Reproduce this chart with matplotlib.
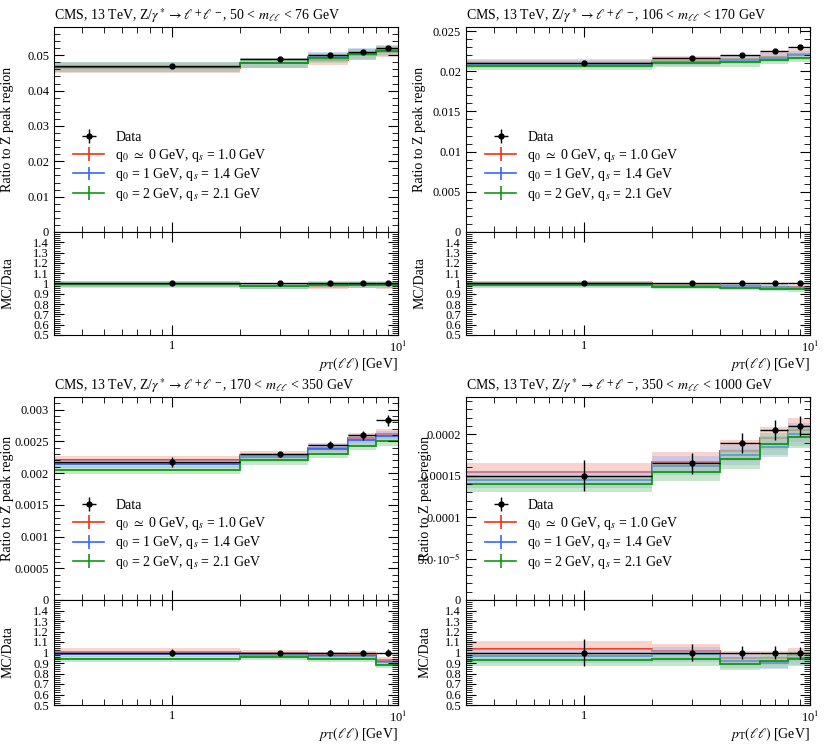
import numpy as np
import matplotlib
matplotlib.use('agg')
import matplotlib.pyplot as plt
from matplotlib.ticker import FixedLocator, NullFormatter

plt.rcParams['font.family'] = ['Liberation Serif', 'DejaVu Serif']
plt.rcParams['mathtext.fontset'] = 'stix'

edges = [0.3, 2, 4, 6, 8, 10]
centres = [1, 3, 5, 7, 9]

titles = [
    r'CMS, 13 TeV, Z/$\gamma^*\rightarrow\ell^+\ell^-$, 50 < $m_{\ell\ell}$ < 76 GeV',
    r'CMS, 13 TeV, Z/$\gamma^*\rightarrow\ell^+\ell^-$, 106 < $m_{\ell\ell}$ < 170 GeV',
    r'CMS, 13 TeV, Z/$\gamma^*\rightarrow\ell^+\ell^-$, 170 < $m_{\ell\ell}$ < 350 GeV',
    r'CMS, 13 TeV, Z/$\gamma^*\rightarrow\ell^+\ell^-$, 350 < $m_{\ell\ell}$ < 1000 GeV',
]
labels = [r'q$_0$ $\simeq$ 0 GeV, q$_s$ = 1.0 GeV',
          r'q$_0$ = 1 GeV, q$_s$ = 1.4 GeV',
          r'q$_0$ = 2 GeV, q$_s$ = 2.1 GeV']
colors = ['#ee3311', '#3366ff', '#109618']
band_colors = ['#f4a99c', '#a9b9f5', '#8fcf9b']

data = [
    [0.0470, 0.0490, 0.0500, 0.0510, 0.0520],
    [0.0210, 0.0217, 0.0220, 0.0225, 0.0230],
    [0.00218, 0.00230, 0.00245, 0.00260, 0.00283],
    [1.50e-4, 1.65e-4, 1.90e-4, 2.05e-4, 2.10e-4],
]
data_err = [
    [0.0002, 0.0002, 0.0002, 0.0002, 0.0003],
    [0.0001, 0.0001, 0.0001, 0.0001, 0.0001],
    [0.00008, 0.00004, 0.00006, 0.00007, 0.00009],
    [1.9e-5, 1.3e-5, 1.2e-5, 1.2e-5, 1.2e-5],
]
red = [
    [0.0465, 0.0478, 0.0488, 0.0502, 0.0510],
    [0.0210, 0.0213, 0.0215, 0.0218, 0.0222],
    [0.00220, 0.00228, 0.00240, 0.00255, 0.00262],
    [1.55e-4, 1.67e-4, 1.80e-4, 1.95e-4, 2.05e-4],
]
blue = [
    [0.0467, 0.0478, 0.0495, 0.0505, 0.0515],
    [0.0209, 0.0212, 0.0214, 0.0217, 0.0220],
    [0.00215, 0.00225, 0.00238, 0.00252, 0.00258],
    [1.45e-4, 1.62e-4, 1.75e-4, 1.85e-4, 2.00e-4],
]
green = [
    [0.0468, 0.0478, 0.0493, 0.0503, 0.0512],
    [0.0207, 0.0210, 0.0211, 0.0214, 0.0217],
    [0.00205, 0.00220, 0.00230, 0.00243, 0.00250],
    [1.40e-4, 1.55e-4, 1.70e-4, 1.88e-4, 1.97e-4],
]
# relative half-width of the MC uncertainty bands
band_rel = [0.03, 0.025, 0.03, 0.07]
ymax = [0.058, 0.0255, 0.0032, 2.45e-4]
yticks = [
    [0, 0.01, 0.02, 0.03, 0.04, 0.05],
    [0, 0.005, 0.01, 0.015, 0.02, 0.025],
    [0, 0.0005, 0.001, 0.0015, 0.002, 0.0025, 0.003],
    [0, 5e-5, 1e-4, 1.5e-4, 2e-4],
]
ytick_labels = [
    ['0', '0.01', '0.02', '0.03', '0.04', '0.05'],
    ['0', '0.005', '0.01', '0.015', '0.02', '0.025'],
    ['0', '0.0005', '0.001', '0.0015', '0.002', '0.0025', '0.003'],
    ['0', r'5.0$\cdot$10$^{-5}$', '0.0001', '0.00015', '0.0002'],
]
ylabel_x = [-0.115, -0.115, -0.115, -0.10]

fig = plt.figure(figsize=(8.24, 7.44), dpi=100)
W, H = 824, 744
col_x = [54, 466]
row_y = [(27, 232, 335), (397, 600, 705)]


def style(ax):
    ax.set_xscale('log')
    ax.set_xlim(edges[0], edges[-1])
    ax.tick_params(which='both', direction='in', top=True, right=True, labelsize=9)
    ax.tick_params(which='major', length=7)
    ax.tick_params(which='minor', length=4)


for p in range(4):
    r, c = divmod(p, 2)
    x0 = col_x[c] / W
    w = 344 / W
    t, m, b = row_y[r]
    ax = fig.add_axes([x0, 1 - m / H, w, (m - t) / H])
    rax = fig.add_axes([x0, 1 - b / H, w, (b - m) / H], sharex=ax)
    d = np.array(data[p])
    mcs = [np.array(red[p]), np.array(blue[p]), np.array(green[p])]
    for mc, col, bc, lab in zip(mcs, colors, band_colors, labels):
        ax.stairs(mc * (1 + band_rel[p]), edges, baseline=mc * (1 - band_rel[p]),
                  fill=True, color=bc, alpha=0.5, lw=0)
        ax.stairs(mc, edges, baseline=None, color=col, lw=1.3)
        ax.errorbar([], [], yerr=[], color=col, label=lab, lw=1.2)
        ratio = mc / d
        rax.stairs(ratio * (1 + band_rel[p]), edges, baseline=ratio * (1 - band_rel[p]),
                   fill=True, color=bc, alpha=0.5, lw=0)
        rax.stairs(ratio, edges, baseline=None, color=col, lw=1.3)
    xerr = [np.array(centres) - np.array(edges[:-1]), np.array(edges[1:]) - np.array(centres)]
    ax.errorbar(centres, d, xerr=xerr, yerr=data_err[p], fmt='o', color='black', ms=3.5,
                lw=1, label='Data')
    rel = np.array(data_err[p]) / d
    rax.errorbar(centres, np.ones(5), xerr=xerr, yerr=rel, fmt='o', color='black', ms=3.5, lw=1)
    h, l = ax.get_legend_handles_labels()
    ax.legend(h[-1:] + h[:-1], l[-1:] + l[:-1], loc='lower left', bbox_to_anchor=(0.02, 0.08),
              frameon=False, fontsize=10, handlelength=2.2, labelspacing=0.2)
    style(ax)
    style(rax)
    ax.set_ylim(0, ymax[p])
    ax.set_yticks(yticks[p])
    ax.set_yticklabels(ytick_labels[p])
    ax.yaxis.set_minor_locator(FixedLocator(np.arange(0, ymax[p], yticks[p][1] / 5)))
    plt.setp(ax.get_xticklabels(), visible=False)
    ax.set_title(titles[p], loc='left', fontsize=10, pad=5)
    ax.set_ylabel('Ratio to Z peak region', fontsize=10)
    rax.set_ylim(0.5, 1.5)
    rax.set_yticks([0.5, 0.6, 0.7, 0.8, 0.9, 1, 1.1, 1.2, 1.3, 1.4])
    rax.set_yticklabels(['0.5', '0.6', '0.7', '0.8', '0.9', '1', '1.1', '1.2', '1.3', '1.4'])
    rax.yaxis.set_minor_locator(FixedLocator(np.arange(0.5, 1.5, 0.02)))
    rax.set_xticks([1, 10])
    rax.set_xticklabels(['1', r'10$^1$'])
    rax.xaxis.set_minor_formatter(NullFormatter())
    rax.set_ylabel('MC/Data', fontsize=10)
    rax.set_xlabel(r'$p_{\mathrm{T}}(\ell\ell)$ [GeV]', fontsize=10, loc='right', labelpad=0)
    rax.yaxis.set_label_coords(ylabel_x[p], 0.5)
    ax.yaxis.set_label_coords(ylabel_x[p], 0.5)

fig.savefig('out.png', dpi=100)
